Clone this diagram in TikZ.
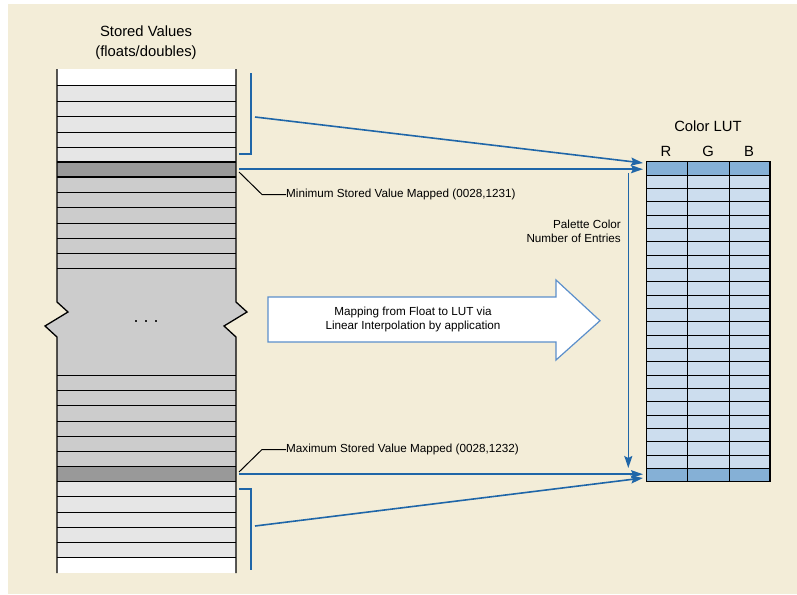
\documentclass[tikz,border=0pt]{standalone}
\usepackage{fontspec}
\setmainfont{Liberation Sans}
\usetikzlibrary{arrows.meta}
\definecolor{cream}{HTML}{F3EDD8}
\definecolor{cellL}{HTML}{E6E6E6}
\definecolor{cellM}{HTML}{CCCCCC}
\definecolor{cellD}{HTML}{999999}
\definecolor{lutL}{HTML}{CCDDEE}
\definecolor{lutD}{HTML}{85B0D6}
\definecolor{lineblue}{HTML}{1F66A8}
\definecolor{arrowblue}{HTML}{5B8FCB}
\newcommand\smallf{\fontsize{11.7}{14}\selectfont}
\newcommand\bigf{\fontsize{14.8}{20}\selectfont}
\tikzset{
  bluelink/.style={draw=lineblue, line width=1.6pt},
  bluearrow/.style={bluelink, -{Stealth[length=12pt,width=8pt,inset=2pt]}},
  leader/.style={draw=black, line width=1pt},
  cellline/.style={draw=black, line width=0.9pt},
  boldline/.style={draw=black, line width=1.5pt},
  darkcell/.style={fill=cellD, minimum width=179pt, minimum height=15pt, inner sep=0pt, anchor=north west, draw=none},
  lutrow/.style={fill=lutD, minimum width=123.3pt, minimum height=13.333pt, inner sep=0pt, anchor=north west, draw=none},
  lbl/.style={font=\smallf, inner sep=0pt, anchor=west},
}
\begin{document}
\begin{tikzpicture}[x=1pt,y=-1pt]
\useasboundingbox (0,0) rectangle (797,594);
\fill[cream] (8,4) rectangle (797,594);

% ---------- stored values column ----------
\node[font=\bigf, align=center] (title) at (146,43) {Stored Values\\(floats/doubles)};

\fill[white] (57,69) rectangle (236,85);
\fill[cellL] (57,85) rectangle (236,162);
\node[darkcell] (minCell) at (57,162) {};
\fill[cellM] (57,177) rectangle (236,268);
\fill[cellM] (57,268) -- (236,268) -- (236,302) -- (247,312) -- (224,326) -- (236,337)
  -- (236,375) -- (57,375) -- (57,337) -- (45,326) -- (68,312) -- (57,302) -- cycle;
\fill[cellM] (57,375) rectangle (236,466.7);
\node[darkcell] (maxCell) at (57,466.7) {};
\fill[cellL] (57,481.7) rectangle (236,557.7);
\fill[white] (57,557.7) rectangle (236,573);

\foreach \yy in {85,101,116,132,147,192.5,207.7,223,238,253,268,375,390.3,405.7,421,436,451,496.7,512,527,542}
  \draw[cellline] (57,\yy) -- (236,\yy);
\foreach \yy in {162,177,466.7,481.7,557.7}
  \draw[boldline] (57,\yy) -- (236,\yy);

\draw[line width=1.3pt] (57,69) -- (57,302) -- (68,312) -- (45,326) -- (57,337) -- (57,573);
\draw[line width=1.3pt] (236,69) -- (236,302) -- (247,312) -- (224,326) -- (236,337) -- (236,573);

\node (dots) at (146,321) {};
\foreach \xx in {135.7,146,155.7}
  \fill[black!85] (\xx-1,320) rectangle (\xx+1,322);

% ---------- brackets ----------
\draw[bluelink] (251,73) -- (251,154) -- (239,154);
\draw[bluelink] (239,489) -- (251,489) -- (251,570);
\coordinate (brTop) at (255,117);
\coordinate (brBot) at (255,526);

% ---------- colour LUT ----------
\node[font=\bigf, inner sep=0pt] (lutTitle) at (708,126) {Color LUT};
\node[font=\bigf, inner sep=0pt] (colR) at (666,151) {R};
\node[font=\bigf, inner sep=0pt] (colG) at (708,151) {G};
\node[font=\bigf, inner sep=0pt] (colB) at (749,151) {B};

\fill[lutL] (646.7,175.03) rectangle (770,468.37);
\node[lutrow] (lutTop) at (646.7,161.7) {};
\node[lutrow] (lutBot) at (646.7,468.37) {};
\foreach \i in {1,...,23}
  \draw[line width=1pt] (646.7,{161.7+\i*13.333}) -- (770,{161.7+\i*13.333});
\draw[line width=1pt] (687.7,161.7) -- (687.7,481.7);
\draw[line width=1pt] (729,161.7) -- (729,481.7);
\draw[line width=1.5pt] (646.7,161.7) rectangle (770,481.7);

\coordinate (lutInTop) at (643,163);
\coordinate (lutInBot) at (643,478);

% ---------- connectors ----------
\draw[bluearrow, shorten <=3pt, shorten >=3.7pt] ([yshift=0.5pt]minCell.east) -- ([yshift=0.5pt]minCell.east -| lutTop.west);
\draw[bluearrow] (brTop) -- (lutInTop);
\draw[bluearrow, shorten <=3pt, shorten >=3.7pt] ([yshift=0.2pt]maxCell.east) -- ([yshift=0.2pt]maxCell.east -| lutBot.west);
\draw[bluearrow] (brBot) -- (lutInBot);

\coordinate (palTop) at (628.3,173);
\coordinate (palBot) at (628.3,468);
\draw[bluearrow] (palTop) -- (palBot);
\node[font=\smallf, align=right, inner sep=0pt, anchor=east] (palLabel) at (621,231) {Palette Color\\Number of Entries};

% ---------- labels ----------
\node[lbl] (minLabel) at (286,194.5) {Minimum Stored Value Mapped (0028,1231)};
\node[lbl] (maxLabel) at (286,449.5) {Maximum Stored Value Mapped (0028,1232)};
\coordinate (minLead) at (239,172);
\coordinate (maxLead) at (239,472);
\draw[leader] (minLead) -- (262,194.5) -- (minLabel.west);
\draw[leader] (maxLead) -- (262,449.5) -- (maxLabel.west);

% ---------- mapping block arrow ----------
\draw[draw=arrowblue, fill=white, line width=1.2pt, line join=miter]
  (268,297) -- (556,297) -- (556,280) -- (600,320.7) -- (556,360) -- (556,342) -- (268,342) -- cycle;
\node[font=\smallf, align=center] (mapText) at (413,319) {Mapping from Float to LUT via\\Linear Interpolation by application};
\end{tikzpicture}
\end{document}
